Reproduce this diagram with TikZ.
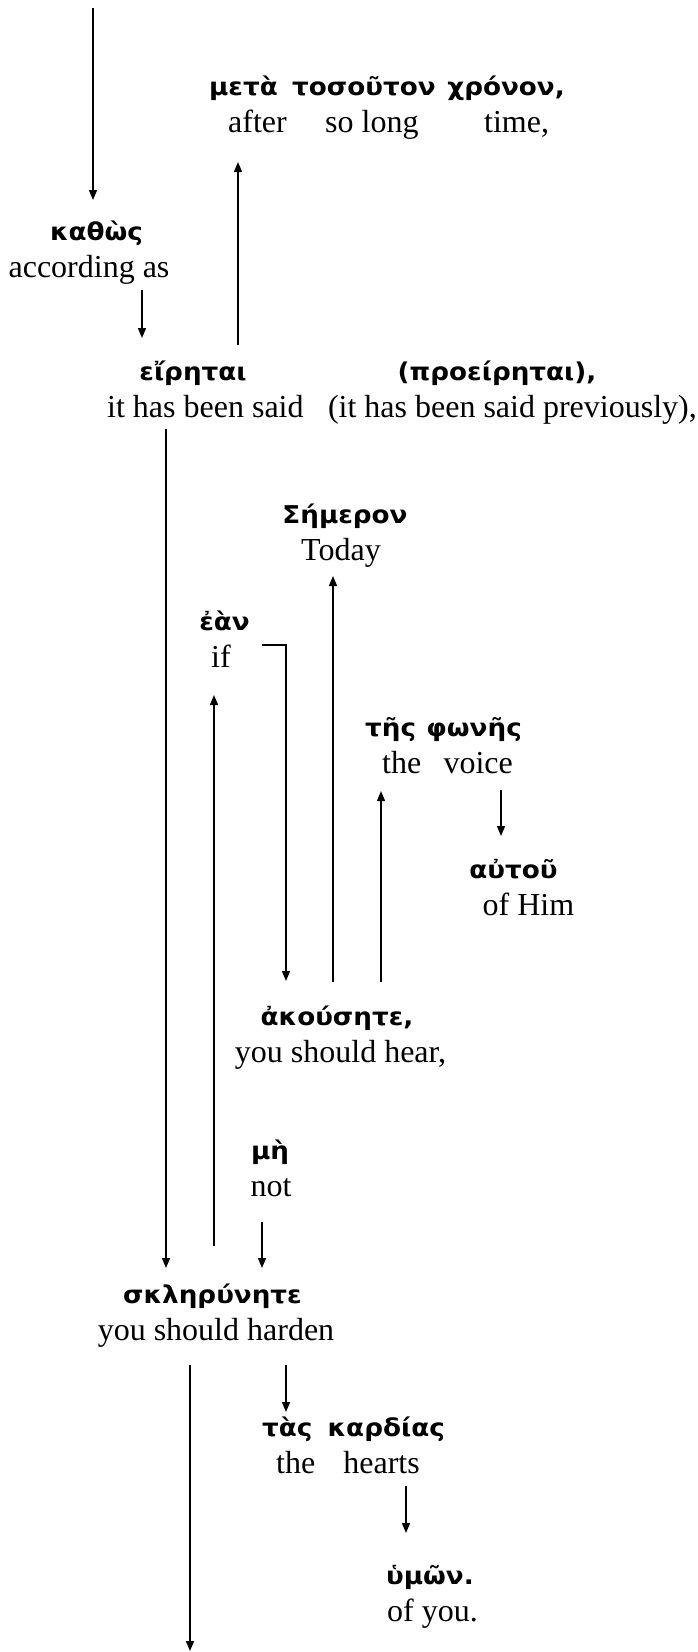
\documentclass[tikz,border=0pt]{standalone}
\usepackage{fontspec}
\setmainfont{Liberation Serif}
\newfontfamily\grkfont{DejaVu Sans}[FakeStretch=1.07]
\usetikzlibrary{arrows.meta}
\begin{document}
\begin{tikzpicture}[x=1pt,y=-1pt,
  gr/.style={font=\grkfont\bfseries\fontsize{24.5}{29}\selectfont, inner sep=0pt, anchor=base},
  en/.style={font=\fontsize{32}{38}\selectfont, inner sep=0pt, anchor=base},
  arr/.style={line width=1.4pt, -{Triangle[length=10pt,width=8pt]}}]
\useasboundingbox (0,0) rectangle (697,1652);

% words
\node[gr, anchor=base west] (metaG1) at (209,95) {μετὰ};
\node[gr, anchor=base west] (metaG2) at (292,95) {τοσοῦτον};
\node[gr, anchor=base east] (metaG3) at (565,95) {χρόνον,};
\node[en, anchor=base west] (afterE) at (228,132) {after};
\node[en, anchor=base west] (solongE) at (325,132) {so long};
\node[en, anchor=base west] (timeE) at (484,132) {time,};

\node[gr] (kathosG) at (96.5,240) {καθὼς};
\node[en] (kathosE) at (89,277) {according as};

\node[gr] (eirG) at (193,380) {εἴρηται};
\node[en, anchor=base west] (eirE) at (107,417) {it has been said};
\node[gr] (proG) at (497,380) {(προείρηται),};
\node[en, anchor=base east] (proE) at (697,417) {(it has been said previously),};

\node[gr] (semG) at (345,523) {Σήμερον};
\node[en] (semE) at (341,560) {Today};

\node[gr] (eanG) at (224.5,630) {ἐὰν};
\node[en] (eanE) at (221,667) {if};

\node[gr, anchor=base west] (phonG1) at (365,736) {τῆς};
\node[gr, anchor=base east] (phonG2) at (522,736) {φωνῆς};
\node[en, anchor=base west] (theE) at (382,773) {the};
\node[en, anchor=base east] (voiceE) at (513,773) {voice};

\node[gr] (autG) at (513.5,878) {αὐτοῦ};
\node[en] (autE) at (528.5,915) {of Him};

\node[gr] (akG) at (337,1025) {ἀκούσητε,};
\node[en] (akE) at (340.5,1062) {you should hear,};

\node[gr] (meG) at (270,1159) {μὴ};
\node[en] (meE) at (271,1196) {not};

\node[gr] (sklG) at (212.5,1303) {σκληρύνητε};
\node[en] (sklE) at (216,1340) {you should harden};

\node[gr, anchor=base west] (kardG1) at (262,1436) {τὰς};
\node[gr, anchor=base east] (kardG2) at (445,1436) {καρδίας};
\node[en, anchor=base west] (the2E) at (276,1473) {the};
\node[en, anchor=base east] (heartsE) at (420,1473) {hearts};

\node[gr, anchor=base west] (humG) at (386,1584) {ὑμῶν.};
\node[en, anchor=base west] (humE) at (387,1621) {of you.};

% connector end points
\coordinate (a1s) at (93,8);      \coordinate (a1e) at (93,200);
\coordinate (a2s) at (142,290);   \coordinate (a2e) at (142,338);
\coordinate (a3s) at (238,345);   \coordinate (a3e) at (238,162);
\coordinate (a4s) at (166,429);   \coordinate (a4e) at (166,1268);
\coordinate (a5s) at (333,982);   \coordinate (a5e) at (333,576);
\coordinate (a6s) at (262,645);   \coordinate (a6m) at (286,645);
\coordinate (a6e) at (286,981);
\coordinate (a7s) at (214,1246);  \coordinate (a7e) at (214,695);
\coordinate (a8s) at (381,982);   \coordinate (a8e) at (381,791);
\coordinate (a9s) at (501,790);   \coordinate (a9e) at (501,836);
\coordinate (a10s) at (262,1222); \coordinate (a10e) at (262,1268);
\coordinate (a11s) at (190,1365); \coordinate (a11e) at (190,1651);
\coordinate (a12s) at (286,1365); \coordinate (a12e) at (286,1412);
\coordinate (a13s) at (406,1486); \coordinate (a13e) at (406,1533);

\draw[arr] (a1s) -- (a1e);
\draw[arr] (a2s) -- (a2e);
\draw[arr] (a3s) -- (a3e);
\draw[arr] (a4s) -- (a4e);
\draw[arr] (a5s) -- (a5e);
\draw[arr] (a6s) -- (a6m) -- (a6e);
\draw[arr] (a7s) -- (a7e);
\draw[arr] (a8s) -- (a8e);
\draw[arr] (a9s) -- (a9e);
\draw[arr] (a10s) -- (a10e);
\draw[arr] (a11s) -- (a11e);
\draw[arr] (a12s) -- (a12e);
\draw[arr] (a13s) -- (a13e);
\end{tikzpicture}
\end{document}
